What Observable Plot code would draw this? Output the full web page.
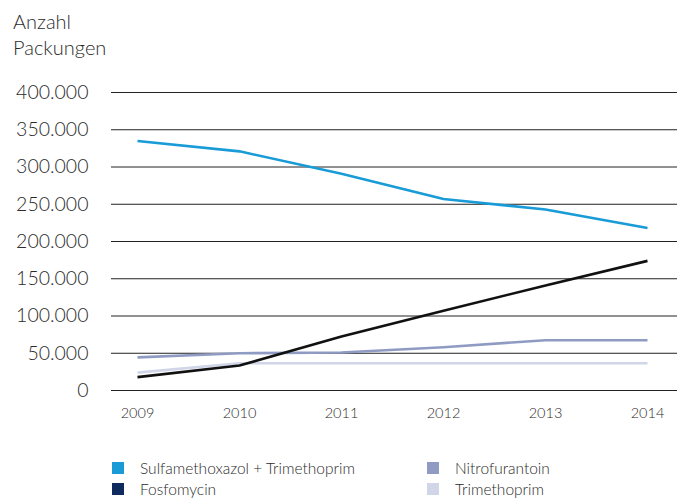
<!DOCTYPE html>
<html>
<head>
<meta charset="utf-8">
<script src="https://cdn.jsdelivr.net/npm/d3@7"></script>
<script src="https://cdn.jsdelivr.net/npm/@observablehq/plot@0.6"></script>
<style>
  html, body { margin: 0; padding: 0; background: #fff; }
  body { width: 677px; height: 498px; position: relative; overflow: hidden;
         font-family: Lato, "Open Sans", sans-serif; font-weight: 300; color: #2b2b2b; }
  #title { position: absolute; left: 13px; top: 8px; font-size: 20px; line-height: 26px; color: #2b2b2b; }
  #chart { position: absolute; left: 0; top: 80px; }
  #legend { position: absolute; left: 0; top: 455px; width: 677px; height: 43px; font-size: 15.5px; color: #2b2b2b; }
  .item { position: absolute; display: flex; align-items: center; height: 18px; }
  .sw { width: 12px; height: 12px; margin-right: 16px; }
</style>
</head>
<body>
<div id="title">Anzahl<br>Packungen</div>
<div id="chart"></div>
<div id="legend"></div>
<script>
const years = [2009, 2010, 2011, 2012, 2013, 2014];
const seriesNames = ["Sulfamethoxazol + Trimethoprim", "Fosfomycin", "Nitrofurantoin", "Trimethoprim"];
const sulfa = [335000, 321000, 291000, 257000, 243000, 218000];
const fosfo = [18000, 33500, 72500, 107000, 141000, 174000];
const nitro = [44500, 50000, 51000, 58000, 67500, 67500];
const trimeth = [24000, 36500, 36500, 36500, 36500, 36500];
const yTicks = [0, 50000, 100000, 150000, 200000, 250000, 300000, 350000, 400000];

const lineColors = ["#189bd7", "#111111", "#8f9bc3", "#d0d5e8"];
const legendColors = ["#189bd7", "#0f2a5c", "#8f9bc3", "#d0d5e8"];
const values = [sulfa, fosfo, nitro, trimeth];

const rows = [];
seriesNames.forEach((s, i) => years.forEach((y, j) => rows.push({series: s, year: y, value: values[i][j]})));
const drawOrder = [3, 2, 1, 0];

const fmt = v => d3.format(",")(v).replace(/,/g, ".");

const plot = Plot.plot({
  width: 677,
  height: 360,
  marginLeft: 111,
  marginRight: 0,
  marginTop: 12,
  marginBottom: 50,
  style: {fontFamily: "Lato, 'Open Sans', sans-serif", fontWeight: 300, color: "#2b2b2b", background: "#fff"},
  x: {domain: [2009, 2014], insetLeft: 26, insetRight: 30, axis: null},
  y: {domain: [0, 400000], axis: null},
  marks: [
    Plot.ruleY(yTicks, {stroke: "#222", strokeWidth: 1}),
    Plot.text(yTicks, {x: 2009, y: d => d, text: d => fmt(d), frameAnchor: "left", textAnchor: "end", dx: -49, fontSize: 19.5, fill: "#2b2b2b"}),
    Plot.text(years, {x: d => d, y: 0, text: d => String(d), dy: 23, fontSize: 14.5, fill: "#2b2b2b"}),
    ...drawOrder.map(i => Plot.line(rows.filter(r => r.series === seriesNames[i]), {
      x: "year", y: "value", stroke: lineColors[i], strokeWidth: 2.6, strokeLinecap: "butt"
    }))
  ]
});
document.getElementById("chart").appendChild(plot);

const legendPos = [[112, 4], [112, 25], [427, 4], [427, 25]];
const leg = document.getElementById("legend");
seriesNames.forEach((s, i) => {
  const d = document.createElement("div");
  d.className = "item";
  d.style.left = legendPos[i][0] + "px";
  d.style.top = legendPos[i][1] + "px";
  d.innerHTML = `<div class="sw" style="background:${legendColors[i]}"></div><span>${s}</span>`;
  leg.appendChild(d);
});
</script>
</body>
</html>
